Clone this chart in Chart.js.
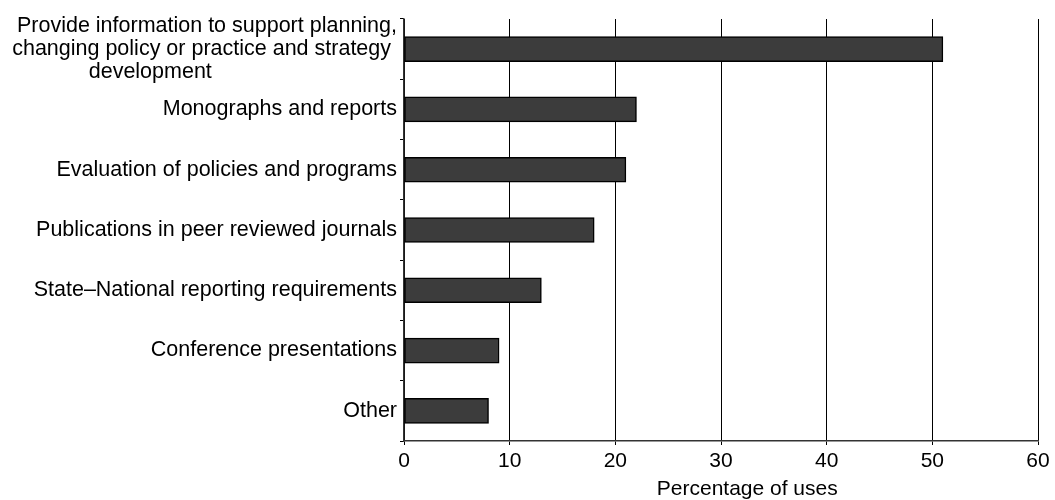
<!DOCTYPE html>
<html>
<head>
<meta charset="utf-8">
<script src="https://cdn.jsdelivr.net/npm/chart.js@4"></script>
<style>
html, body { margin: 0; padding: 0; background: #fff; }
#wrap { width: 1055px; height: 500px; }
</style>
</head>
<body>
<div id="wrap"><canvas id="uses-cvs"></canvas></div>
<script>
// categories (first one split over three lines, last line pushed left like the original)
var categories = [
	["Provide information to support planning,", "changing policy or practice and strategy ", "development" + " ".repeat(31)],
	"Monographs and reports",
	"Evaluation of policies and programs",
	"Publications in peer reviewed journals",
	"State\u2013National reporting requirements",
	"Conference presentations",
	"Other"
];
var uses = [51, 22, 21, 18, 13, 9, 8];
var xTicks = [0, 10, 20, 30, 40, 50, 60];
var xTitle = " ".repeat(9) + "Percentage of uses";

Chart.defaults.font.family = "'Liberation Sans', Arial, sans-serif";
Chart.defaults.font.size = 21.5;
Chart.defaults.color = "#000";

var config = {
	type: "bar",
	data: {
		labels: categories,
		datasets: [{
			data: uses,
			backgroundColor: "#3c3c3c",
			borderColor: "#000",
			borderWidth: 1.5,
			borderSkipped: false,
			barThickness: 25
		}]
	},
	options: {
		indexAxis: "y",
		responsive: true,
		maintainAspectRatio: false,
		animation: false,
		layout: {
			padding: {top: 19, right: 17, left: 0, bottom: 0}
		},
		plugins: {
			legend: false,
			tooltip: {enabled: false}
		},
		scales: {
			x: {
				min: 0,
				max: 60,
				afterBuildTicks: function(scale) {
					scale.ticks = xTicks.map(function(v) { return {value: v}; });
				},
				afterFit: function(scale) {
					scale.height = 59;
				},
				grid: {
					color: "#000",
					lineWidth: 1,
					tickLength: 4,
					drawTicks: true
				},
				border: {color: "#333", width: 1.5},
				ticks: {
					padding: 4,
					maxRotation: 0,
					autoSkip: false,
					font: {size: 21}
				},
				title: {
					display: true,
					text: xTitle,
					font: {size: 21, lineHeight: 1.0},
					padding: {top: 0, bottom: 0}
				}
			},
			y: {
				afterFit: function(scale) {
					scale.width = 404;
				},
				grid: {
					offset: true,
					drawOnChartArea: false,
					drawTicks: true,
					tickLength: 4,
					color: "#000"
				},
				border: {color: "#333", width: 1.5},
				ticks: {
					padding: 3,
					autoSkip: false,
					font: {size: 21.5, lineHeight: 1.08}
				}
			}
		}
	}
};
var chart = new Chart("uses-cvs", config);
</script>
</body>
</html>
